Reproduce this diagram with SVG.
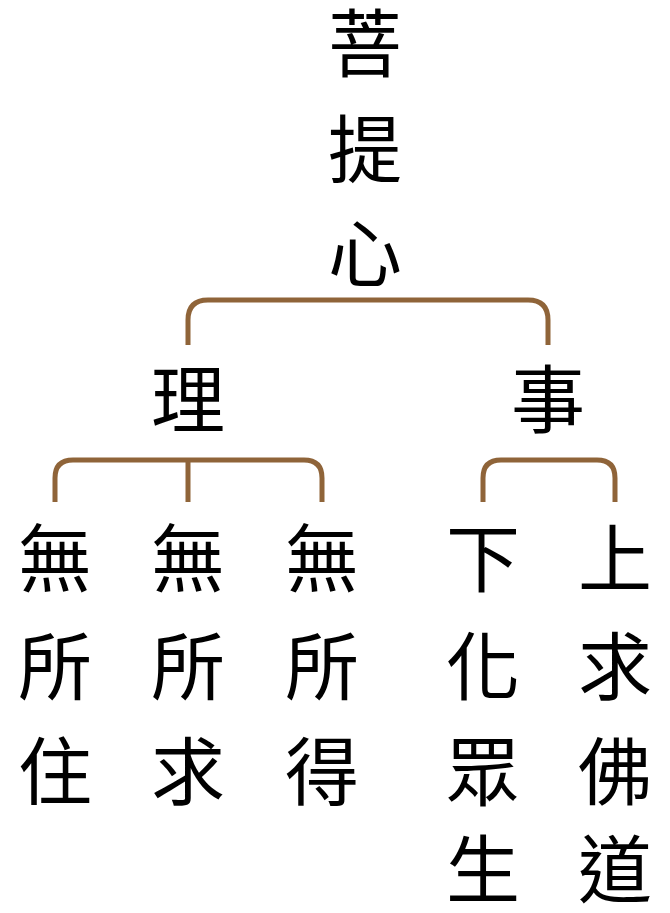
<svg xmlns="http://www.w3.org/2000/svg" width="670" height="913" viewBox="0 0 670 913">
<style>
text{font-family:"Noto Sans CJK TC","Noto Sans CJK SC",sans-serif;font-size:74px;fill:#000;text-anchor:middle;dominant-baseline:central}
.c{fill:none;stroke:#8f6439;stroke-width:5}
</style>
<rect width="670" height="913" fill="#fff"/>
<g id="connectors">
<path class="c" d="M188,345 V320 Q188,300 208,300 H528 Q548,300 548,320 V345"/>
<path class="c" d="M55,502 V478 Q55,460 73,460 H304 Q322,460 322,478 V502 M188,460 V502"/>
<path class="c" d="M483,502 V478 Q483,460 501,460 H597 Q615,460 615,478 V502"/>
</g>
<g id="root"><text x="365" y="38">菩</text><text x="365" y="144">提</text><text x="365" y="248">心</text></g>
<g id="li"><text x="188" y="394">理</text></g>
<g id="shi"><text x="548" y="394">事</text></g>
<g id="n1"><text x="55" y="553">無</text><text x="55" y="661">所</text><text x="55" y="766">住</text></g>
<g id="n2"><text x="188" y="553">無</text><text x="188" y="661">所</text><text x="188" y="766">求</text></g>
<g id="n3"><text x="322" y="553">無</text><text x="322" y="661">所</text><text x="322" y="766">得</text></g>
<g id="n4"><text x="483" y="553">下</text><text x="483" y="661">化</text><text x="483" y="766">眾</text><text x="483" y="864">生</text></g>
<g id="n5"><text x="615" y="553">上</text><text x="615" y="661">求</text><text x="615" y="766">佛</text><text x="615" y="864">道</text></g>
</svg>
